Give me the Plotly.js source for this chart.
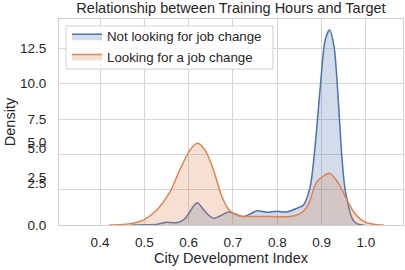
<!DOCTYPE html>
<html>
<head>
<meta charset="utf-8">
<script src="https://cdn.plot.ly/plotly-3.0.1.min.js"></script>
<style>html,body{margin:0;padding:0;background:#fff;}#chart{width:405px;height:270px;}</style>
</head>
<body>
<div id="chart"></div>
<script>
// Not looking for job change (target 0)
const notX = [0.47,0.50,0.53,0.55,0.573,0.59,0.60,0.611,0.62,0.633,0.645,0.656,0.671,0.69,0.705,0.723,0.739,0.754,0.776,0.799,0.821,0.844,0.859,0.874,0.885,0.897,0.908,0.918,0.928,0.938,0.945,0.952,0.96,0.967,0.975,0.985,0.995];
const notY = [0,0.02,0.06,0.19,0.16,0.4,0.8,1.35,1.58,1.11,0.7,0.47,0.64,0.92,0.78,0.59,0.78,1.01,0.9,0.97,0.92,1.18,1.42,2.7,5.5,9.8,13.1,13.8,12.6,8.6,5.08,2.7,1.42,0.59,0.19,0.03,0];
// Looking for a job change (target 1)
const lookX = [0.42,0.45,0.475,0.498,0.528,0.558,0.58,0.603,0.62,0.637,0.656,0.675,0.693,0.716,0.739,0.784,0.829,0.851,0.865,0.874,0.887,0.905,0.918,0.938,0.957,0.972,0.987,1.002,1.025,1.04];
const lookY = [0,0.04,0.13,0.35,1.06,2.36,3.9,5.3,5.78,5.3,3.9,2.0,1.0,0.64,0.6,0.6,0.6,0.8,1.2,1.77,2.95,3.5,3.66,2.95,1.77,0.94,0.42,0.16,0.02,0];

const xTickVals = [0.4,0.5,0.6,0.7,0.8,0.9,1.0];
const xTickText = ['0.4','0.5','0.6','0.7','0.8','0.9','1.0'];
const yTickVals = [0,2.5,5,7.5,10,12.5];
const yTickText = ['0.0','','','7.5','10.0','12.5'];
const yExtraVals = [2.97,3.36,5.45,5.84];
const yExtraText = ['2.5','2.5','5.0','5.0'];

const FONT = 'Liberation Sans, Arial, sans-serif';
const traces = [
  {x: notX, y: notY, type:'scatter', mode:'lines', name:'Not looking for job change',
   line:{color:'#4C72B0', width:1.5, shape:'spline', smoothing:0.8}, fill:'tozeroy', fillcolor:'rgba(76,114,176,0.25)'},
  {x: lookX, y: lookY, type:'scatter', mode:'lines', name:'Looking for a job change',
   line:{color:'#DD8452', width:1.5, shape:'spline', smoothing:0.8}, fill:'tozeroy', fillcolor:'rgba(221,132,82,0.25)'},
  {x: [], y: [], type:'scatter', yaxis:'y2', showlegend:false, hoverinfo:'skip'}
];
const layout = {
  width:405, height:270,
  margin:{l:59, r:2, t:19, b:45},
  paper_bgcolor:'#fff', plot_bgcolor:'#fff',
  font:{family:FONT, size:13, color:'#262626'},
  title:{text:'Relationship between Training Hours and Target', font:{size:14.5, color:'#262626'}, xref:'paper', x:0.5, xanchor:'center', y:0.97, yanchor:'middle'},
  showlegend:true,
  legend:{x:0.0233, y:0.99, xanchor:'left', yanchor:'top', bgcolor:'rgba(0,0,0,0)', borderwidth:0,
          font:{size:13.3, color:'#262626'}, tracegroupgap:0},
  shapes:[{type:'rect', xref:'paper', yref:'paper', x0:0.0203, x1:0.622, y0:0.757, y1:0.966,
           fillcolor:'rgba(255,255,255,0.8)', line:{color:'#d0d0d0', width:1}, layer:'above'}],
  xaxis:{range:[0.3075,1.0835], tickvals:xTickVals, ticktext:xTickText, showgrid:true, gridcolor:'#d6d6d6', gridwidth:1,
         zeroline:false, showline:true, linecolor:'#d0d0d0', mirror:true, ticks:'outside', ticklen:5, tickcolor:'rgba(0,0,0,0)',
         tickfont:{size:13.5}, title:{text:'City Development Index', font:{size:14.5}, standoff:2}},
  yaxis:{range:[0,14.58], tickvals:yTickVals, ticktext:yTickText, showgrid:true, gridcolor:'#d6d6d6', gridwidth:1,
         zeroline:false, showline:true, linecolor:'#d0d0d0', mirror:true, ticks:'outside', ticklen:9, tickcolor:'rgba(0,0,0,0)',
         tickfont:{size:13.5}, title:{text:'Density', font:{size:14.5}, standoff:0}},
  yaxis2:{range:[0,14.58], overlaying:'y', side:'left', tickvals:yExtraVals, ticktext:yExtraText, showgrid:false, zeroline:false,
          showline:false, ticks:'outside', ticklen:9, tickcolor:'rgba(0,0,0,0)', tickfont:{size:13.5}}
};
Plotly.newPlot('chart', traces, layout, {displayModeBar:false, staticPlot:true});
</script>
</body>
</html>
